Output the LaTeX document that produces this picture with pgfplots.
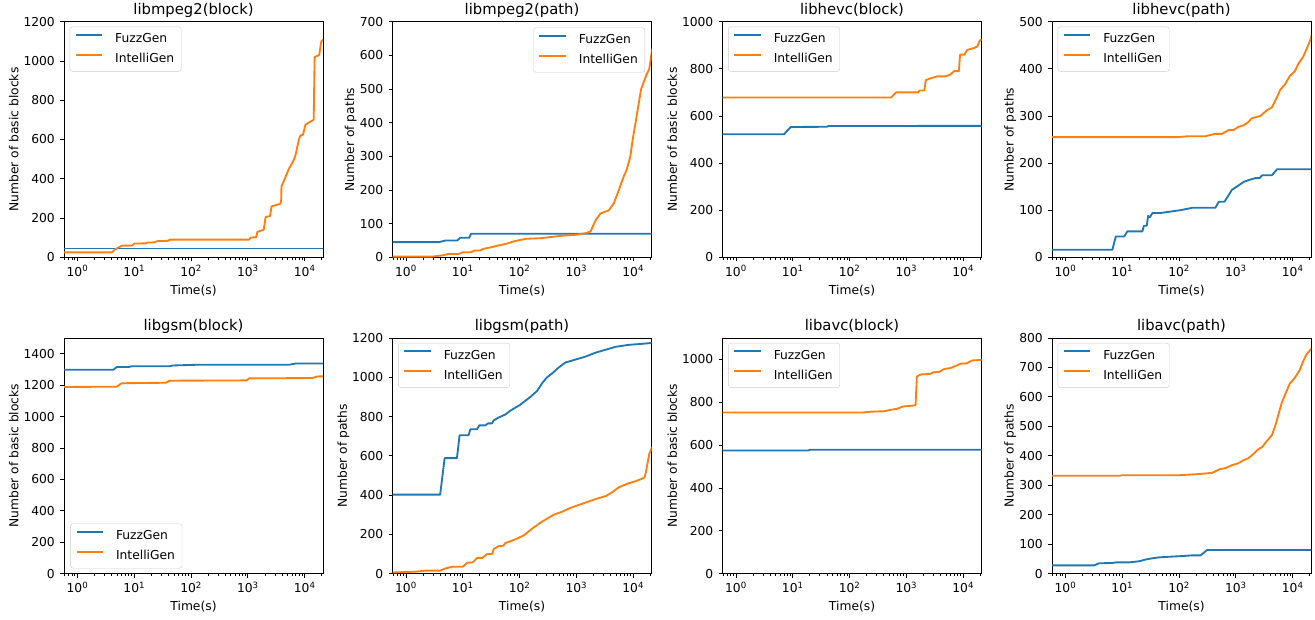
\documentclass[border=0pt]{standalone}
\usepackage{fontspec}
\setmainfont{DejaVu Sans}
\usepackage{pgfplots}
\pgfplotsset{compat=1.18}
\definecolor{mblue}{HTML}{1F77B4}
\definecolor{morange}{HTML}{FF7F0E}
\pgfkeys{/pgf/number format/.cd, assume math mode=true, 1000 sep={}}
\pgfplotsset{
  legend image code/.code={\draw[#1] (0pt,4.2pt) -- (26.5pt,4.2pt);},
  scale only axis, width=259pt, height=235.6pt,
  xmin=0.58, xmax=21000, ymin=0,
  axis line style={line width=0.9pt, black},
  tick align=outside, tick pos=left,
  major tick length=4pt, minor tick length=2.4pt,
  every tick/.style={black, line width=0.8pt},
  xtick={1,10,100,1000,10000},
  xticklabels={10\textsuperscript{0},10\textsuperscript{1},10\textsuperscript{2},10\textsuperscript{3},10\textsuperscript{4}},
  minor xtick={0.6,0.7,0.8,0.9,2,3,4,5,6,7,8,9,20,30,40,50,60,70,80,90,200,300,400,500,600,700,800,900,2000,3000,4000,5000,6000,7000,8000,9000,20000},
  tick label style={font=\fontsize{12.3}{14}\selectfont},
  xticklabel style={anchor=base, yshift=-15pt},
  yticklabel style={anchor=east, inner sep=0pt, xshift=-5pt},
  every axis title shift=0pt,
  title style={font=\fontsize{14.8}{16}\selectfont, at={(axis description cs:0.5,1)}, anchor=base, yshift=7.5pt},
  xlabel style={font=\fontsize{12.3}{14}\selectfont, at={(axis description cs:0.5,0)}, anchor=base, yshift=-37pt},
  ylabel style={font=\fontsize{12.3}{14}\selectfont, anchor=base},
  legend style={font=\fontsize{12.3}{14}\selectfont, draw=black!20, rounded corners=2.5pt, fill=white, fill opacity=0.8, text opacity=1,
    inner xsep=5pt, inner ysep=5pt, row sep=5pt, column sep=10pt,
    at={(axis description cs:0.022,0.979)}, anchor=north west},
  legend cell align=left,
  every axis plot/.append style={line width=1.85pt, mark=none, line join=round},
  fourdig/.style={ylabel style={at={(axis description cs:-0.1757,0.5)}}},
  threedig/.style={ylabel style={at={(axis description cs:-0.1486,0.5)}}},
}
\begin{document}
\begin{tikzpicture}
\path[use as bounding box] (0,0) rectangle (1315pt,620pt);

% ---------- libmpeg2(block)
\begin{semilogxaxis}[fourdig, at={(64pt,362.7pt)}, anchor=south west,
  title={libmpeg2(block)}, xlabel={Time(s)}, ylabel={Number of basic blocks},
  ymax=1200, ytick={0,200,...,1200}]
\addplot[mblue] coordinates {(0.5,45) (21600,45)};
\addplot[morange] coordinates {(0.5,25) (4,25) (4.6,40) (6,59) (9.3,60) (10,70) (16,71) (17,75) (23,76) (25,82) (40,84) (42,90) (1050,90) (1120,100) (1400,103) (1470,130) (1900,140) (2050,205) (2450,210) (2620,260) (3700,272) (3850,285) (3900,360) (4460,400) (5250,450) (6300,490) (6900,520) (7900,600) (8400,620) (9350,625) (10300,675) (11600,685) (14400,700) (14960,1020) (18000,1030) (19600,1100) (21600,1110)};
\legend{FuzzGen,IntelliGen}
\end{semilogxaxis}

% ---------- libmpeg2(path)
\begin{semilogxaxis}[threedig, at={(392.5pt,362.7pt)}, anchor=south west,
  title={libmpeg2(path)}, xlabel={Time(s)}, ylabel={Number of paths},
  ymax=700, ytick={0,100,...,700},
  legend style={at={(axis description cs:0.975,0.975)}, anchor=north east}]
\addplot[mblue] coordinates {(0.5,45) (3.8,45) (5,50) (8,50) (9,58) (13,58) (14,70) (21600,70)};
\addplot[morange] coordinates {(0.5,2) (2.9,2) (4.5,6) (5.6,10) (8.5,10) (10,15) (14,15) (16,20) (20,20) (23,25) (32,30) (42,35) (58,40) (82,48) (130,55) (250,57) (430,62) (640,65) (1000,67) (1500,72) (1780,77) (2180,110) (2650,130) (3750,140) (4540,160) (5600,200) (6800,240) (7700,260) (8900,300) (9800,350) (11000,400) (12300,450) (13800,500) (16900,540) (19200,560) (21600,620)};
\legend{FuzzGen,IntelliGen}
\end{semilogxaxis}

% ---------- libhevc(block)
\begin{semilogxaxis}[fourdig, at={(722.5pt,362.7pt)}, anchor=south west,
  title={libhevc(block)}, xlabel={Time(s)}, ylabel={Number of basic blocks},
  ymax=1000, ytick={0,200,...,1000}]
\addplot[mblue] coordinates {(0.5,522) (7,522) (9.2,553) (40,554) (42,557) (21600,558)};
\addplot[morange] coordinates {(0.5,678) (540,678) (600,690) (660,700) (1600,700) (1700,708) (2070,708) (2200,752) (2700,760) (3500,768) (4800,768) (5900,775) (6900,790) (8400,790) (8800,860) (10500,860) (11700,880) (15400,888) (17800,895) (19500,920) (21600,925)};
\legend{FuzzGen,IntelliGen}
\end{semilogxaxis}

% ---------- libhevc(path)
\begin{semilogxaxis}[threedig, at={(1052pt,362.7pt)}, anchor=south west,
  title={libhevc(path)}, xlabel={Time(s)}, ylabel={Number of paths},
  ymax=500, ytick={0,100,...,500}]
\addplot[mblue] coordinates {(0.5,16) (6.7,16) (7.7,44) (10.8,44) (12.3,55) (22.6,55) (24,67) (27,67) (28.5,88) (30.7,85) (34,94) (47,94) (106,100) (170,105) (435,105) (500,118) (630,118) (730,130) (850,143) (1040,150) (1370,160) (1800,165) (2200,168) (2600,168) (2900,174) (4300,174) (5300,187) (21600,187)};
\addplot[morange] coordinates {(0.5,255) (93,255) (150,257) (290,257) (430,262) (570,262) (750,270) (910,270) (1110,277) (1360,280) (1660,287) (1900,295) (2700,300) (3500,312) (4300,318) (5300,340) (6000,355) (7300,367) (8900,385) (10900,395) (12500,410) (15200,425) (18000,445) (20600,462) (21600,472)};
\legend{FuzzGen,IntelliGen}
\end{semilogxaxis}

% ---------- libgsm(block)
\begin{semilogxaxis}[fourdig, at={(64pt,46.4pt)}, anchor=south west,
  title={libgsm(block)}, xlabel={Time(s)}, ylabel={Number of basic blocks},
  ymax=1500, ytick={0,200,...,1400},
  legend style={at={(axis description cs:0.025,0.022)}, anchor=south west}]
\addplot[mblue] coordinates {(0.5,1298) (4.3,1298) (4.9,1315) (8,1315) (9,1320) (42,1320) (48,1325) (140,1330) (5400,1330) (7000,1338) (21600,1338)};
\addplot[morange] coordinates {(0.5,1188) (4.9,1190) (6,1212) (36,1215) (42,1228) (950,1230) (1050,1243) (13700,1245) (16500,1255) (21600,1256)};
\legend{FuzzGen,IntelliGen}
\end{semilogxaxis}

% ---------- libgsm(path)
\begin{semilogxaxis}[fourdig, at={(392.5pt,46.4pt)}, anchor=south west,
  title={libgsm(path)}, xlabel={Time(s)}, ylabel={Number of paths},
  ymax=1200, ytick={0,200,...,1200}]
\addplot[mblue] coordinates {(0.5,402) (4,402) (4.8,588) (7.9,588) (8.8,705) (12.7,705) (13.6,735) (17.8,735) (19.6,755) (25,755) (27.8,765) (32.7,765) (35,780) (42.7,795) (56,810) (69,830) (103,860) (155,900) (203,930) (250,970) (305,1000) (375,1020) (490,1050) (640,1075) (960,1090) (1440,1105) (2160,1125) (3250,1140) (4900,1155) (8300,1165) (14000,1170) (21600,1175)};
\addplot[morange] coordinates {(0.5,5) (1.5,10) (2.2,15) (4,15) (4.8,25) (6.5,35) (10,35) (12,55) (15,57) (18,80) (22,80) (27,100) (33,100) (35,125) (43,140) (52,142) (56,155) (85,175) (119,195) (168,230) (235,260) (305,280) (400,300) (560,315) (790,335) (1110,350) (1560,365) (2200,380) (3300,395) (4300,415) (5600,440) (8300,460) (10900,470) (13400,480) (15900,490) (16800,520) (19200,610) (21600,645)};
\legend{FuzzGen,IntelliGen}
\end{semilogxaxis}

% ---------- libavc(block)
\begin{semilogxaxis}[fourdig, at={(722.5pt,46.4pt)}, anchor=south west,
  title={libavc(block)}, xlabel={Time(s)}, ylabel={Number of basic blocks},
  ymax=1100, ytick={0,200,...,1000}]
\addplot[mblue] coordinates {(0.5,575) (19,575) (20,578) (21600,578)};
\addplot[morange] coordinates {(0.5,752) (170,752) (240,756) (410,758) (540,765) (700,770) (860,780) (1370,785) (1450,787) (1530,920) (1800,930) (2600,932) (3000,940) (3800,942) (4600,955) (6000,960) (7400,970) (9000,980) (11600,982) (14300,995) (21600,998)};
\legend{FuzzGen,IntelliGen}
\end{semilogxaxis}

% ---------- libavc(path)
\begin{semilogxaxis}[threedig, at={(1052pt,46.4pt)}, anchor=south west,
  title={libavc(path)}, xlabel={Time(s)}, ylabel={Number of paths},
  ymax=800, ytick={0,100,...,800}]
\addplot[mblue] coordinates {(0.5,28) (3.2,28) (3.9,35) (6.7,36) (7.7,38) (13,38) (20,42) (26,48) (34,52) (44,55) (65,57) (125,60) (170,62) (240,62) (310,80) (21600,80)};
\addplot[morange] coordinates {(0.5,332) (8.8,332) (10,334) (100,334) (220,338) (380,342) (530,355) (650,358) (850,368) (1110,375) (1370,385) (1660,392) (2000,405) (2400,420) (2900,430) (3500,450) (4300,470) (4900,500) (5600,540) (6400,580) (7800,620) (8900,645) (10900,665) (13200,690) (15200,720) (17600,745) (21600,765)};
\legend{FuzzGen,IntelliGen}
\end{semilogxaxis}
\end{tikzpicture}
\end{document}
